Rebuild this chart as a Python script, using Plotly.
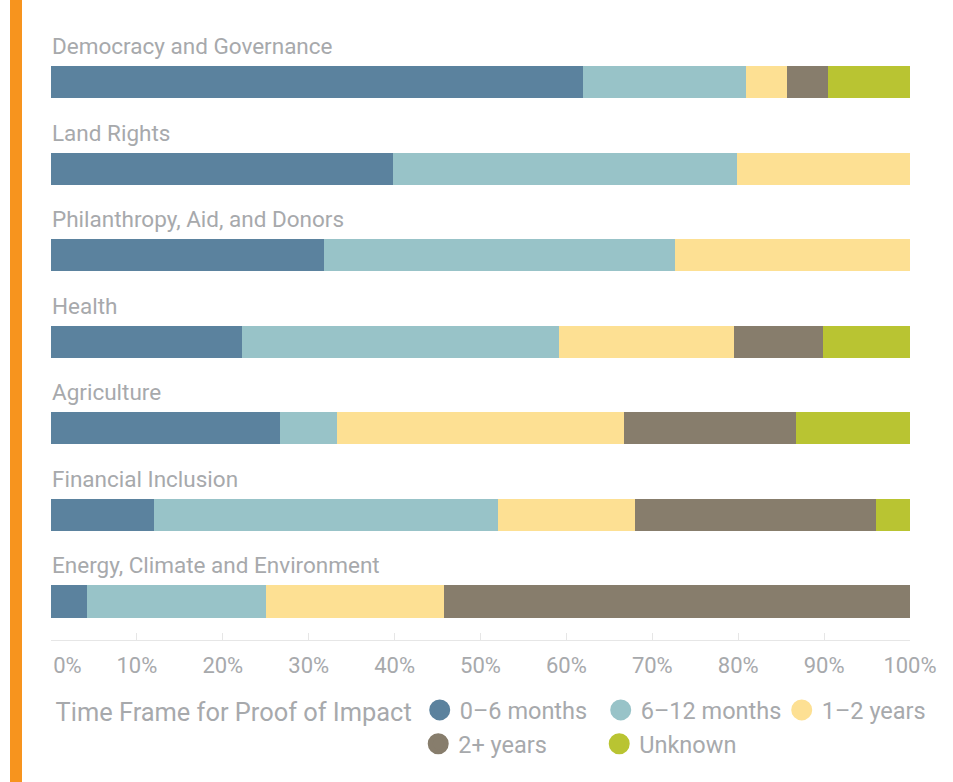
import plotly.graph_objects as go

categories = ["Democracy and Governance", "Land Rights", "Philanthropy, Aid, and Donors",
              "Health", "Agriculture", "Financial Inclusion", "Energy, Climate and Environment"]
series_names = ["0–6 months", "6–12 months", "1–2 years", "2+ years", "Unknown"]
v_0_6m = [61.9, 39.8, 31.8, 22.2, 26.7, 12.0, 4.2]
v_6_12m = [19.0, 40.1, 40.8, 36.9, 6.6, 40.0, 20.8]
v_1_2y = [4.8, 20.1, 27.4, 20.4, 33.4, 16.0, 20.8]
v_2plus = [4.8, 0, 0, 10.4, 20.0, 28.0, 54.2]
v_unknown = [9.5, 0, 0, 10.1, 13.3, 4.0, 0]
series_values = [v_0_6m, v_6_12m, v_1_2y, v_2plus, v_unknown]
colors = ["#5B829E", "#98C3C8", "#FDE093", "#877D6C", "#B9C432"]
legend_groups = ["legend", "legend", "legend", "legend2", "legend2"]
tick_vals = [0, 10, 20, 30, 40, 50, 60, 70, 80, 90, 100]
tick_text = ["\u00a0" * 6 + "0%"] + [f"{t}%" for t in tick_vals[1:]]

FONT = "Roboto, Liberation Sans, sans-serif"
GRAY = "#A7A9AC"

fig = go.Figure()
ypos = list(range(len(categories)))
for name, vals, col in zip(series_names, series_values, colors):
    fig.add_trace(go.Bar(y=ypos, x=vals, orientation="h", marker=dict(color=col, line=dict(width=0)),
                         width=0.37, showlegend=False, name=name, hoverinfo="x+name"))
for name, col, lg in zip(series_names, colors, legend_groups):
    fig.add_trace(go.Scatter(x=[None], y=[None], mode="markers", name=name, legend=lg,
                             marker=dict(color=col, size=16, symbol="circle",
                                         line=dict(color=col, width=5))))

for i, c in enumerate(categories):
    fig.add_annotation(x=0, y=i, xref="x", yref="y", text=c, showarrow=False,
                       xanchor="left", yanchor="middle", yshift=36, xshift=-1,
                       font=dict(family=FONT, size=22.5, color=GRAY))

fig.add_shape(type="rect", xref="paper", yref="paper", x0=-41/859, x1=-29/859,
              y0=-142/620, y1=1 + 20/620, fillcolor="#F7941E", line=dict(width=0), layer="above")

fig.update_layout(
    barmode="stack",
    width=953, height=782,
    margin=dict(l=51, r=43, t=20, b=142, autoexpand=False),
    paper_bgcolor="white", plot_bgcolor="white",
    font=dict(family=FONT, color=GRAY),
    xaxis=dict(range=[0, 100], tickvals=tick_vals, ticktext=tick_text, showgrid=False,
               zeroline=False, showline=True, linecolor="#E6E6E6", linewidth=1,
               ticks="inside", ticklen=7, tickcolor="#E6E6E6", ticklabelstandoff=6,
               tickfont=dict(family=FONT, size=22, color=GRAY), fixedrange=True),
    yaxis=dict(range=[6.445, -0.72], showticklabels=False, showgrid=False, zeroline=False,
               showline=False, fixedrange=True),
    legend=dict(orientation="h", x=0.003, xanchor="left", y=-0.0777, yanchor="top",
                title=dict(text="Time Frame for Proof of Impact", side="left",
                           font=dict(family=FONT, size=25.4, color=GRAY)),
                font=dict(family=FONT, size=23.5, color=GRAY), traceorder="normal",
                itemsizing="trace", entrywidth=136),
    legend2=dict(orientation="h", x=0.4275, xanchor="left", y=-0.1322, yanchor="top",
                 font=dict(family=FONT, size=23.5, color=GRAY), traceorder="normal",
                 itemsizing="trace", entrywidth=136),
)

fig.write_html("out.html", config={"displayModeBar": False},
               post_script="document.body.style.margin='0';")
